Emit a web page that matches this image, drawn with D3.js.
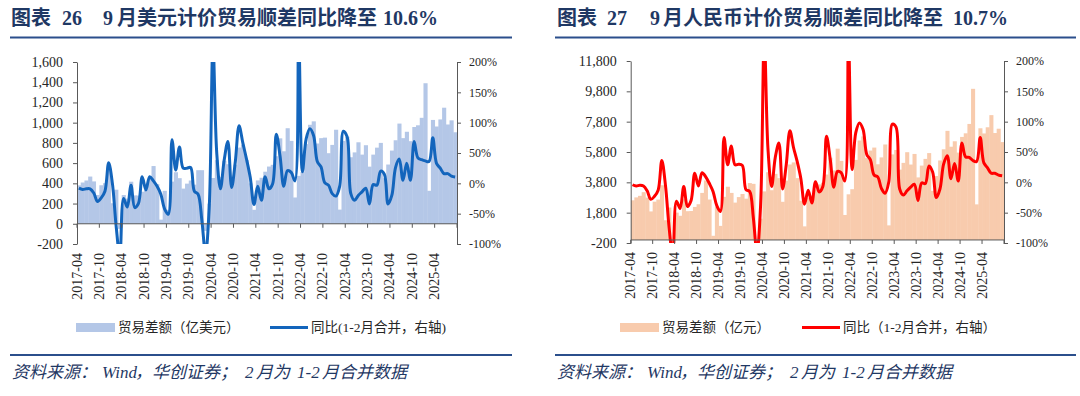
<!DOCTYPE html>
<html>
<head>
<meta charset="utf-8">
<script src="https://d3js.org/d3.v7.min.js"></script>
<style>
    body { margin: 0; background: #fff; }
    svg text { font-family: "Liberation Serif", "Noto Sans CJK SC", serif; }
</style>
</head>
<body>
<svg id="chart" width="1080" height="396"></svg>
<script>
// monthly categories 2017-04 .. 2025-09
const months = d3.timeMonth.range(new Date(2017, 3, 1), new Date(2025, 9, 1)).map(d3.timeFormat("%Y-%m"));
const tickLabels = ["2017-04", "2017-10", "2018-04", "2018-10", "2019-04", "2019-10", "2020-04", "2020-10",
    "2021-04", "2021-10", "2022-04", "2022-10", "2023-04", "2023-10", "2024-04", "2024-10", "2025-04"];

// 贸易差额（亿美元）
const usdBalance = [
    380, 408, 428, 467, 419, 285, 381, 402, 547,
    203, 337, -50, 284, 249, 416, 281, 279, 317, 340, 447, 571,
    392, 41, 326, 138, 417, 510, 451, 348, 397, 428, 387, 530,
    530, -70, 199, 453, 629, 464, 623, 589, 370, 584, 754, 782,
    630, 400, 138, 429, 455, 515, 566, 583, 668, 845, 717, 945,
    820, 260, 474, 511, 788, 979, 1013, 794, 847, 852, 698, 780,
    930, 140, 820, 860, 658, 706, 806, 684, 777, 565, 684, 753,
    800, 450, 586, 724, 826, 991, 847, 910, 817, 957, 974, 1048,
    1390, 326, 1027, 962, 1032, 1148, 982, 1023, 905
];
// 同比 % (美元)
const usdYoy = [
    -8, -10, -9, -9, -16, -30, -24, -13, 34,
    0, -70, -121, -25, -39, -3, -40, -33, 11, -11, 11, 4,
    -5, -18, -42, -51, 72, 22, 60, 25, 25, 26, -13, -18,
    -60, -116, -39, 228, 51, -9, 38, 69, -7, 36, 95, 67,
    40, 10, -35, -5, -28, 11, -9, -1, 81, 45, -5, 21,
    18, 4, 243, 19, 73, 90, 79, 36, 27, 1, -3, -17,
    -21, -5, 86, 77, -17, -28, -20, -14, -8, -34, -2, -3,
    20, 15, -34, -20, 26, 40, 5, 33, 5, 69, 42, 39,
    37, 36, 75, 33, 25, 16, 16, 12, 10.6
];
// 贸易差额（亿元）
const cnyBalance = [
    2614, 2807, 2910, 3152, 2795, 1881, 2526, 2661, 3610,
    1299, 2140, -315, 1803, 1594, 2683, 1897, 1911, 2178, 2356, 3102, 3928,
    2666, 276, 2191, 929, 2844, 3509, 3103, 2464, 2827, 3030, 2721, 3750,
    3700, -490, 1403, 3203, 4466, 3280, 4361, 4076, 2516, 3913, 4976, 5114,
    4076, 2588, 897, 2789, 2926, 3322, 3662, 3772, 4315, 5425, 4582, 6020,
    5215, 1648, 3010, 3347, 5280, 6559, 6828, 5399, 5895, 6092, 4991, 5444,
    6296, 962, 5642, 5934, 4639, 5083, 5787, 4973, 5672, 4125, 4904, 5346,
    5728, 3236, 4219, 5242, 5980, 7195, 6149, 6507, 5760, 6795, 7032, 7650,
    9966, 2347, 7364, 7023, 7430, 8231, 7051, 7335, 6453
];
// 同比 % (人民币)
const cnyYoy = [
    -4, -6, -5, -6, -14, -28, -23, -13, 36,
    -5, -75, -122, -31, -43, -7, -40, -30, 15, -6, 16, 9,
    -2, -15, -38, -48, 74, 29, 60, 29, 30, 28, -12, -15,
    -58, -116, -37, 240, 56, -7, 41, 65, -11, 29, 85, 57,
    34, 6, -36, -13, -34, 1, -16, -7, 76, 39, -8, 18,
    16, 2, 235, 21, 82, 98, 87, 46, 37, 12, 9, -10,
    -18, 0, 96, 91, -11, -21, -14, -8, -3, -30, -1, -2,
    27, 17, -25, -11, 30, 44, 6, 31, 2, 65, 42, 41,
    36, 34, 74, 32, 24, 15, 15, 12, 10.7
];
const usdTicks = [-200, 0, 200, 400, 600, 800, 1000, 1200, 1400, 1600];
const cnyTicks = [-200, 1800, 3800, 5800, 7800, 9800, 11800];
const yoyTicks = [-100, -50, 0, 50, 100, 150, 200];

const svg = d3.select("#chart");
const num = d => d3.format(",")(d).replace("\u2212", "-");
const pct = d => d + "%";
const navy = "#1F3864";
const rule = "#2B4F8C";
const axisColor = "#595959";

function drawPanel(p) {
    const x = d3.scaleBand().domain(months).range([p.left, p.right]);
    const bw = x.bandwidth();
    const yL = d3.scaleLinear().domain(p.leftDomain).range([p.bottom, p.top]);
    const yR = d3.scaleLinear().domain([-100, 200]).range([p.bottom, p.top]);

    // title pieces + rules
    const t = svg.append("text").attr("y", 25)
        .attr("font-size", 20).attr("font-weight", "bold").attr("fill", navy);
    p.title.forEach(([s, dx]) => t.append("tspan").attr("x", p.ruleX0 + dx).text(s));
    svg.append("line").attr("x1", p.ruleX0).attr("x2", p.ruleX1).attr("y1", 37.5).attr("y2", 37.5)
        .attr("stroke", rule).attr("stroke-width", 2.2);
    svg.append("line").attr("x1", p.ruleX0).attr("x2", p.ruleX1).attr("y1", 355).attr("y2", 355)
        .attr("stroke", rule).attr("stroke-width", 2.2);
    const src = svg.append("text").attr("y", 378)
        .attr("font-size", 17).attr("font-style", "italic").attr("fill", navy);
    [["资料来源：", 2], ["Wind", 92], ["，华创证券；", 125], ["2", 235], ["月为", 246], ["1-2", 287], ["月合并数据", 312]]
        .forEach(([s, dx]) => src.append("tspan").attr("x", p.ruleX0 + dx).text(s));

    const clipId = "clip" + p.id;
    svg.append("clipPath").attr("id", clipId).append("rect")
        .attr("x", p.left).attr("y", p.top).attr("width", p.right - p.left).attr("height", p.bottom - p.top);
    const plot = svg.append("g").attr("clip-path", `url(#${clipId})`);

    plot.selectAll("rect").data(p.bars).join("rect")
        .attr("x", (d, i) => x(months[i]))
        .attr("width", bw + 0.4)
        .attr("y", d => Math.min(yL(d), yL(0)))
        .attr("height", d => Math.abs(yL(d) - yL(0)))
        .attr("fill", p.barColor);

    // x axis at zero
    svg.append("line").attr("x1", p.left).attr("x2", p.right)
        .attr("y1", yL(0)).attr("y2", yL(0)).attr("stroke", axisColor).attr("stroke-width", 1);
    const tickXs = d3.range(0, months.length + 1, 6).map(i => i < months.length ? x(months[i]) : p.right);
    svg.selectAll(null).data(tickXs).join("line")
        .attr("x1", d => d).attr("x2", d => d)
        .attr("y1", yL(0)).attr("y2", yL(0) + 4)
        .attr("stroke", axisColor);

    plot.append("path").datum(p.yoy)
        .attr("fill", "none").attr("stroke", p.lineColor).attr("stroke-width", 3)
        .attr("stroke-linejoin", "round")
        .attr("d", d3.line().x((d, i) => x(months[i]) + bw / 2).y(d => yR(d)).curve(d3.curveCatmullRom));

    // left axis
    const gl = svg.append("g").attr("transform", `translate(${p.left},0)`)
        .call(d3.axisLeft(yL).tickValues(p.leftTicks).tickSize(4).tickSizeOuter(0).tickPadding(10).tickFormat(num));
    // right axis
    const gr = svg.append("g").attr("transform", `translate(${p.right},0)`)
        .call(d3.axisRight(yR).tickValues(yoyTicks).tickSize(4).tickSizeOuter(0).tickPadding(8).tickFormat(pct));
    [gl, gr].forEach(g => {
        g.select(".domain").attr("stroke", axisColor);
        g.selectAll(".tick line").attr("stroke", axisColor);
        g.selectAll("text").attr("fill", "#262626");
    });
    gl.selectAll("text").attr("font-size", 14).attr("font-family", "Liberation Serif");
    gr.selectAll("text").attr("font-size", 12).attr("font-family", "DejaVu Sans");

    // x labels
    svg.selectAll(null).data(tickLabels).join("text")
        .attr("transform", (d, k) => `translate(${x(months[k * 6])},${p.bottom + 9}) rotate(-90)`)
        .attr("text-anchor", "end").attr("dominant-baseline", "central")
        .attr("font-size", 14).attr("fill", "#262626")
        .text(d => d);

    // legend
    svg.append("rect").attr("x", p.legX).attr("y", 323).attr("width", 39).attr("height", 9).attr("fill", p.barColor);
    svg.append("text").attr("x", p.legX + 42).attr("y", 332).attr("font-size", 13.5).attr("fill", "#262626")
        .text(p.barLabel);
    svg.append("line").attr("x1", p.legX2).attr("x2", p.legX2 + 38).attr("y1", 327.5).attr("y2", 327.5)
        .attr("stroke", p.lineColor).attr("stroke-width", 3);
    svg.append("text").attr("x", p.legX2 + 41).attr("y", 332).attr("font-size", 13.5).attr("fill", "#262626")
        .text(p.lineLabel);
}

drawPanel({
    id: "usd", left: 77, right: 457, top: 62, bottom: 244,
    leftDomain: [-200, 1600], leftTicks: usdTicks,
    bars: usdBalance, yoy: usdYoy, barColor: "#B4C7E7", lineColor: "#1365BC",
    title: [["图表", 1], ["26", 52], ["9", 93], ["月美元计价贸易顺差同比降至", 107], ["10.6%", 373]],
    ruleX0: 10, ruleX1: 512,
    legX: 76, legX2: 270,
    barLabel: "贸易差额（亿美元）", lineLabel: "同比(1-2月合并，右轴)"
});
drawPanel({
    id: "cny", left: 630.7, right: 1004, top: 61, bottom: 243,
    leftDomain: [-200, 11800], leftTicks: cnyTicks,
    bars: cnyBalance, yoy: cnyYoy, barColor: "#F8CBAD", lineColor: "#FF0000",
    title: [["图表", 2], ["27", 52], ["9", 95], ["月人民币计价贸易顺差同比降至", 108], ["10.7%", 398]],
    ruleX0: 555, ruleX1: 1076,
    legX: 620, legX2: 802,
    barLabel: "贸易差额（亿元）", lineLabel: "同比（1-2月合并，右轴）"
});
</script>
</body>
</html>
